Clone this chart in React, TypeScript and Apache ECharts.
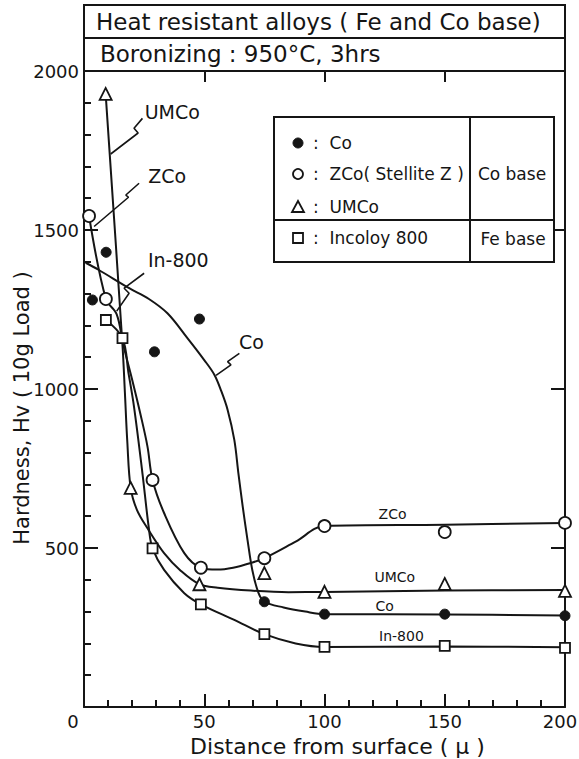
import React, { useEffect, useRef } from "react";
import * as echarts from "echarts";

const FONT = "DejaVu Sans";
const INK = "#151515";

// ---- measured marker points [distance (µ), hardness Hv] ----
const coPoints = [[3.5, 1280], [9.2, 1430], [29.3, 1117], [48, 1220], [75, 331], [100, 292], [150, 292], [200, 287]];
const zcoPoints = [[2.1, 1544], [9.1, 1283], [28.5, 714], [48.6, 438], [75, 468], [100, 569], [150, 550], [200, 579]];
const umcoPoints = [[9, 1928], [19.4, 689], [48, 386], [75, 421], [100, 362], [150, 387], [200, 365]];
const in800Points = [[9.1, 1217], [16, 1160], [28.5, 499], [48.6, 323], [75, 229], [100, 189], [150, 192], [200, 186]];

// ---- fitted curves drawn through the data ----
const coCurve = [[0.7, 1397], [6, 1375], [18.8, 1317], [27, 1283], [34.7, 1238], [43, 1160], [50, 1091], [54.2, 1045], [57, 995], [59.7, 935], [62.5, 840], [64.2, 735], [66, 630], [68, 525], [70, 430], [72.5, 360], [75, 331], [83, 313], [92, 300], [100, 292], [150, 291], [200, 288]];
const zcoCurve = [[2.1, 1544], [9.1, 1283], [13.6, 1235], [16.3, 1140], [20, 1030], [23.5, 920], [26.4, 819], [28.5, 714], [33.3, 610], [41.7, 484], [48.6, 438], [55.5, 432], [62, 438], [69.4, 453], [75, 468], [88, 520], [100, 569], [150, 573], [200, 579]];
const umcoCurve = [[9, 1928], [16, 1138], [17, 990], [18, 835], [19.4, 689], [22, 620], [26.4, 562], [33.3, 484], [40.3, 428], [48, 386], [55.6, 375], [69.4, 366], [85, 361], [100, 362], [150, 366], [200, 368]];
const in800Curve = [[9.1, 1217], [16, 1160], [18.5, 1050], [20.8, 944], [24.3, 735], [27, 560], [28.5, 499], [33.3, 431], [41.7, 358], [48.6, 323], [62.5, 274], [75, 229], [88, 200], [100, 189], [150, 190], [200, 188]];

// ---- curve name callouts (zig-zag leaders) ----
const umcoLeader = [[24.3, 1851], [20.8, 1820], [22.5, 1805], [11.1, 1739]];
const zcoLeader = [[22.9, 1647], [17.4, 1610], [18.5, 1603], [4.2, 1511]];
const in800Leader = [[25, 1364], [16.7, 1317], [18.75, 1301], [13.6, 1245]];
const coLeader = [[64.6, 1112], [59.7, 1086], [61.1, 1076], [54.9, 1043]];

const upperLabelNames = ["UMCo", "ZCo", "In-800", "Co"];
const upperLabelPos = [[36.7, 1871], [34.6, 1670], [39.2, 1406], [69.6, 1148]];
const lowerLabelNames = ["ZCo", "UMCo", "Co", "In-800"];
const lowerLabelPos = [[128.3, 607], [129.2, 409], [125, 318], [132, 223]];

// ---- axes ----
const xMin = 0, xMax = 200, xStep = 50;
const yMin = 0, yMax = 2000, yStep = 500;

const titleText = "Heat resistant alloys ( Fe and Co base)";
const subtitleText = "Boronizing : 950°C, 3hrs";
const xName = "Distance from surface ( μ )";
const yName = "Hardness, Hv ( 10g Load )";

const legendLabels = [":  Co", ":  ZCo( Stellite Z )", ":  UMCo", ":  Incoloy 800"];
const groupLabels = ["Co base", "Fe base"];

export default function App() {
  const ref = useRef<HTMLDivElement>(null);

  useEffect(() => {
    if (!ref.current) return;
    const chart = echarts.init(ref.current, undefined, { renderer: "svg" });

    const curveSeries = (data: number[][]) => ({
      type: "line",
      data,
      smooth: 0.35,
      showSymbol: false,
      symbol: "none",
      lineStyle: { color: INK, width: 2, opacity: 1 },
      z: 2,
      silent: true,
    });
    const leaderSeries = (data: number[][]) => ({
      type: "line",
      data,
      smooth: false,
      showSymbol: false,
      symbol: "none",
      lineStyle: { color: INK, width: 1.6, opacity: 1 },
      z: 2,
      silent: true,
    });
    const labelSeries = (names: string[], pos: number[][], size: number) => ({
      type: "scatter",
      data: names.map((n, i) => ({ name: n, value: pos[i] })),
      symbolSize: 1,
      itemStyle: { color: "rgba(0,0,0,0)", opacity: 1 },
      label: {
        show: true,
        position: "inside",
        formatter: "{b}",
        fontFamily: FONT,
        fontSize: size,
        color: INK,
        opacity: 1,
        textBorderWidth: 0,
      },
      z: 4,
      silent: true,
    });
    const markerSeries = (data: number[][], symbol: string, size: number, filled: boolean) => ({
      type: "scatter",
      data,
      symbol,
      symbolSize: size,
      itemStyle: filled
        ? { color: INK, borderColor: INK, borderWidth: 1, opacity: 1 }
        : { color: "#ffffff", borderColor: INK, borderWidth: 1.8, opacity: 1 },
      z: 5,
      silent: true,
    });

    const lx = 274, ly = 117, lw = 280, lh = 145, ldiv = 470, lhdiv = 220;
    const rowY = [143, 174, 207, 238];
    const symX = 298;

    chart.setOption({
      animation: false,
      backgroundColor: "#ffffff",
      grid: { left: 84, right: 14, top: 71, bottom: 52, containLabel: false, outerBoundsMode: "none" },
      xAxis: [
        {
          type: "value",
          position: "bottom",
          min: xMin,
          max: xMax,
          interval: xStep,
          axisLine: { show: true, onZero: false, lineStyle: { color: INK, width: 2 } },
          axisTick: { show: true, inside: true, length: 13, lineStyle: { color: INK, width: 2 } },
          minorTick: { show: true, splitNumber: 5, length: 7, lineStyle: { color: INK, width: 2 } },
          splitLine: { show: false },
          axisLabel: {
            margin: 5,
            fontFamily: FONT,
            fontSize: 18,
            color: INK,
            formatter: (v: number) => (v === xMin ? "{z|0}" : v === xMax ? `{e|${v}}` : String(v)),
            rich: {
              z: { fontFamily: FONT, fontSize: 18, color: INK, padding: [0, 22, 0, 0] },
              e: { fontFamily: FONT, fontSize: 18, color: INK, padding: [0, 10, 0, 0] },
            },
          },
          name: xName,
          nameLocation: "middle",
          nameGap: 28,
          nameMoveOverlap: false,
          nameTextStyle: { fontFamily: FONT, fontSize: 22, color: INK, padding: [0, 0, 0, 26] },
        },
        {
          type: "value",
          position: "top",
          min: xMin,
          max: xMax,
          interval: xStep,
          axisLine: { show: true, onZero: false, lineStyle: { color: INK, width: 2 } },
          axisTick: { show: true, inside: true, length: 11, lineStyle: { color: INK, width: 2 } },
          axisLabel: { show: false },
          splitLine: { show: false },
        },
      ],
      yAxis: [
        {
          type: "value",
          position: "left",
          min: yMin,
          max: yMax,
          interval: yStep,
          axisLine: { show: true, onZero: false, lineStyle: { color: INK, width: 2 } },
          axisTick: { show: true, inside: true, length: 14, lineStyle: { color: INK, width: 2 } },
          minorTick: { show: true, splitNumber: 5, length: 7, lineStyle: { color: INK, width: 2 } },
          splitLine: { show: false },
          axisLabel: {
            margin: 5,
            fontFamily: FONT,
            fontSize: 18,
            color: INK,
            formatter: (v: number) => (v === 0 ? "" : String(v)),
          },
          name: yName,
          nameLocation: "middle",
          nameGap: 52,
          nameMoveOverlap: false,
          nameTextStyle: { fontFamily: FONT, fontSize: 21, color: INK, padding: [0, 38, 0, 0] },
        },
        {
          type: "value",
          position: "right",
          min: yMin,
          max: yMax,
          interval: yStep,
          axisLine: { show: true, onZero: false, lineStyle: { color: INK, width: 2 } },
          axisTick: { show: true, inside: true, length: 14, lineStyle: { color: INK, width: 2 } },
          axisLabel: { show: false },
          splitLine: { show: false },
        },
      ],
      series: [
        curveSeries(coCurve),
        curveSeries(zcoCurve),
        curveSeries(umcoCurve),
        curveSeries(in800Curve),
        leaderSeries(umcoLeader),
        leaderSeries(zcoLeader),
        leaderSeries(in800Leader),
        leaderSeries(coLeader),
        labelSeries(upperLabelNames, upperLabelPos, 19),
        labelSeries(lowerLabelNames, lowerLabelPos, 14),
        markerSeries(coPoints, "circle", 10, true),
        markerSeries(zcoPoints, "circle", 12, false),
        markerSeries(umcoPoints, "triangle", 12, false),
        markerSeries(in800Points, "rect", 10, false),
      ],
      graphic: [
        // header box
        {
          type: "rect",
          shape: { x: 84, y: 5, width: 481, height: 66 },
          style: { fill: "none", stroke: INK, lineWidth: 2 },
          z: 10,
        },
        {
          type: "line",
          shape: { x1: 84, y1: 38, x2: 565, y2: 38 },
          style: { stroke: INK, lineWidth: 2 },
          z: 10,
        },
        {
          type: "text",
          x: 96,
          y: 22,
          style: { text: titleText, font: `23px "${FONT}"`, fill: INK, textAlign: "left", textVerticalAlign: "middle", align: "left", verticalAlign: "middle" },
          z: 10,
        },
        {
          type: "text",
          x: 100,
          y: 54,
          style: { text: subtitleText, font: `23px "${FONT}"`, fill: INK, textAlign: "left", textVerticalAlign: "middle", align: "left", verticalAlign: "middle" },
          z: 10,
        },
        // legend box
        {
          type: "rect",
          shape: { x: lx, y: ly, width: lw, height: lh },
          style: { fill: "#ffffff", stroke: INK, lineWidth: 2 },
          z: 10,
        },
        {
          type: "line",
          shape: { x1: ldiv, y1: ly, x2: ldiv, y2: ly + lh },
          style: { stroke: INK, lineWidth: 2 },
          z: 11,
        },
        {
          type: "line",
          shape: { x1: lx, y1: lhdiv, x2: lx + lw, y2: lhdiv },
          style: { stroke: INK, lineWidth: 2 },
          z: 11,
        },
        {
          type: "circle",
          shape: { cx: symX, cy: rowY[0], r: 5 },
          style: { fill: INK, stroke: INK, lineWidth: 1 },
          z: 11,
        },
        {
          type: "circle",
          shape: { cx: symX, cy: rowY[1], r: 5 },
          style: { fill: "#ffffff", stroke: INK, lineWidth: 1.8 },
          z: 11,
        },
        {
          type: "polygon",
          shape: { points: [[symX, rowY[2] - 6], [symX + 6, rowY[2] + 5], [symX - 6, rowY[2] + 5]] },
          style: { fill: "#ffffff", stroke: INK, lineWidth: 1.8 },
          z: 11,
        },
        {
          type: "rect",
          shape: { x: symX - 5, y: rowY[3] - 5, width: 10, height: 10 },
          style: { fill: "#ffffff", stroke: INK, lineWidth: 1.8 },
          z: 11,
        },
        ...legendLabels.map((t, i) => ({
          type: "text",
          x: 313,
          y: rowY[i],
          style: { text: t, font: `17px "${FONT}"`, fill: INK, textAlign: "left", textVerticalAlign: "middle", align: "left", verticalAlign: "middle" },
          z: 11,
        })),
        {
          type: "text",
          x: 512,
          y: 174,
          style: { text: groupLabels[0], font: `17px "${FONT}"`, fill: INK, textAlign: "center", textVerticalAlign: "middle", align: "center", verticalAlign: "middle" },
          z: 11,
        },
        {
          type: "text",
          x: 513,
          y: 239,
          style: { text: groupLabels[1], font: `17px "${FONT}"`, fill: INK, textAlign: "center", textVerticalAlign: "middle", align: "center", verticalAlign: "middle" },
          z: 11,
        },
      ],
    });

    return () => chart.dispose();
  }, []);

  return (
    <div
      ref={ref}
      style={{ position: "absolute", left: 0, top: 0, width: 579, height: 759, overflow: "hidden" }}
    />
  );
}
